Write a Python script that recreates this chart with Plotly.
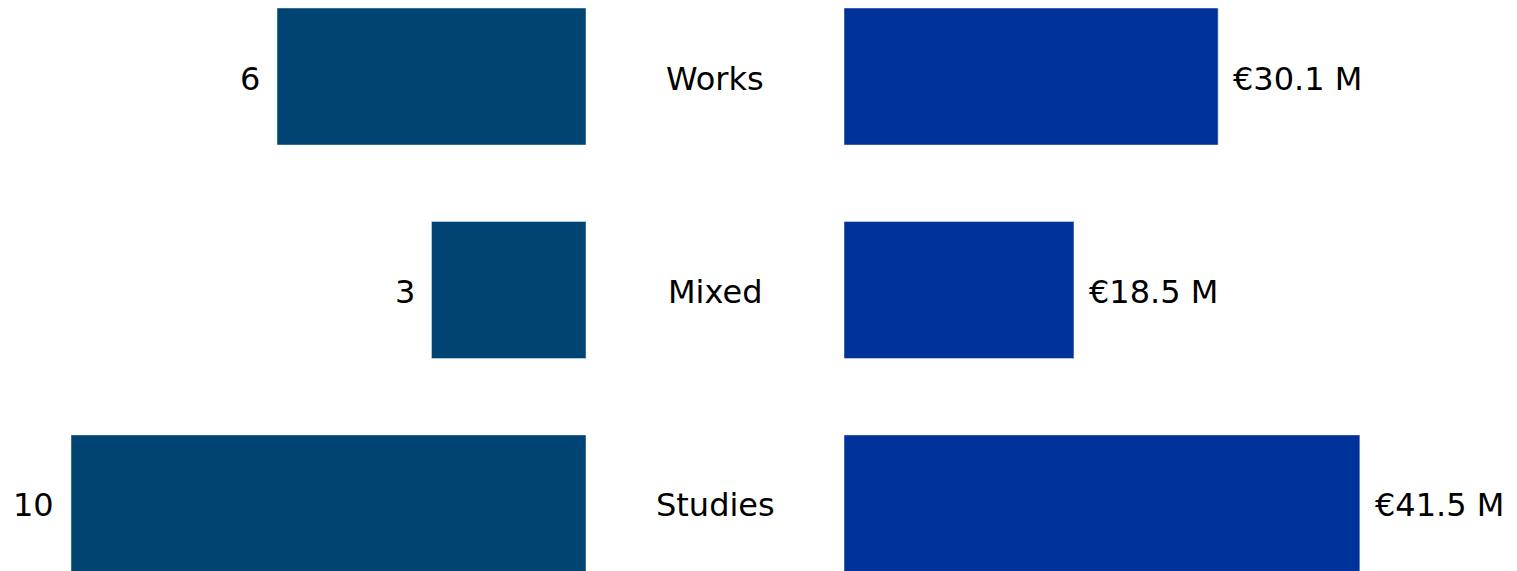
import plotly.graph_objects as go

categories = ["Studies", "Mixed", "Works"]
counts = [10, 3, 6]
amounts = [41.5, 18.5, 30.1]
amount_labels = ["€41.5 M", "€18.5 M", "€30.1 M"]

LEFT_COLOR = "#004473"
RIGHT_COLOR = "#003399"
FONT = dict(family="DejaVu Sans, Verdana, sans-serif", size=32, color="#000000")

W, H = 1517, 571
ypos = list(range(len(categories)))

fig = go.Figure()
fig.add_trace(go.Bar(y=ypos, x=counts, orientation="h", marker_color=LEFT_COLOR,
                     width=0.642, xaxis="x", yaxis="y", hoverinfo="skip"))
fig.add_trace(go.Bar(y=ypos, x=amounts, orientation="h", marker_color=RIGHT_COLOR,
                     width=0.642, xaxis="x2", yaxis="y", hoverinfo="skip"))

annotations = []
for yv, c in zip(ypos, counts):
    annotations.append(dict(x=c, y=yv, xref="x", yref="y", text=str(c), showarrow=False,
                            xanchor="right", xshift=-15, yshift=-2, font=FONT))
for yv, a, lab in zip(ypos, amounts, amount_labels):
    annotations.append(dict(x=a, y=yv, xref="x2", yref="y", text=lab, showarrow=False,
                            xanchor="left", xshift=13, yshift=-2, font=FONT))
for yv, cat in zip(ypos, categories):
    annotations.append(dict(x=707 / W, y=yv, xref="paper", yref="y", text=cat, showarrow=False,
                            xanchor="center", yshift=-2, font=FONT))

fig.update_layout(
    width=W, height=H,
    margin=dict(l=0, r=0, t=0, b=0),
    paper_bgcolor="white", plot_bgcolor="white",
    showlegend=False,
    annotations=annotations,
    xaxis=dict(domain=[0, 578 / W], range=[578 / 51.5, 0], visible=False, fixedrange=True),
    xaxis2=dict(domain=[836 / W, 1], range=[0, 681 / 12.43], visible=False, fixedrange=True),
    yaxis=dict(range=[-0.354, 2.321], visible=False, fixedrange=True),
    font=FONT,
)

fig.write_html("out.html", config={"displayModeBar": False})
